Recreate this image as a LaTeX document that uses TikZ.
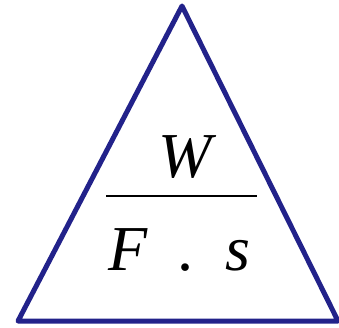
\documentclass[tikz,border=0pt]{standalone}
\usepackage{fontspec}
\setmainfont{Liberation Serif}
\definecolor{tridark}{RGB}{34,34,138}

\begin{document}
\begin{tikzpicture}[x=1pt,y=-1pt,
  sym/.style={font=\fontsize{64}{70}\selectfont\itshape,inner sep=0pt,anchor=base}]
  \useasboundingbox (0,0) rectangle (339,328);
  \coordinate (top) at (182,6);
  \coordinate (lft) at (18,321);
  \coordinate (rgt) at (338,321);
  \draw[tridark,line width=5pt,line join=round] (top) -- (lft) -- (rgt) -- cycle;
  \node[sym] (work) at (185,178) {W};
  \coordinate (barl) at (106,196);
  \coordinate (barr) at (257,196);
  \draw[line width=1.4pt] (barl) -- (barr);
  \node[sym] (force) at (128,270) {F};
  \node[sym,font=\fontsize{64}{70}\selectfont\upshape] (times) at (185,270) {.};
  \node[sym] (dist) at (238,270) {s};
\end{tikzpicture}
\end{document}
